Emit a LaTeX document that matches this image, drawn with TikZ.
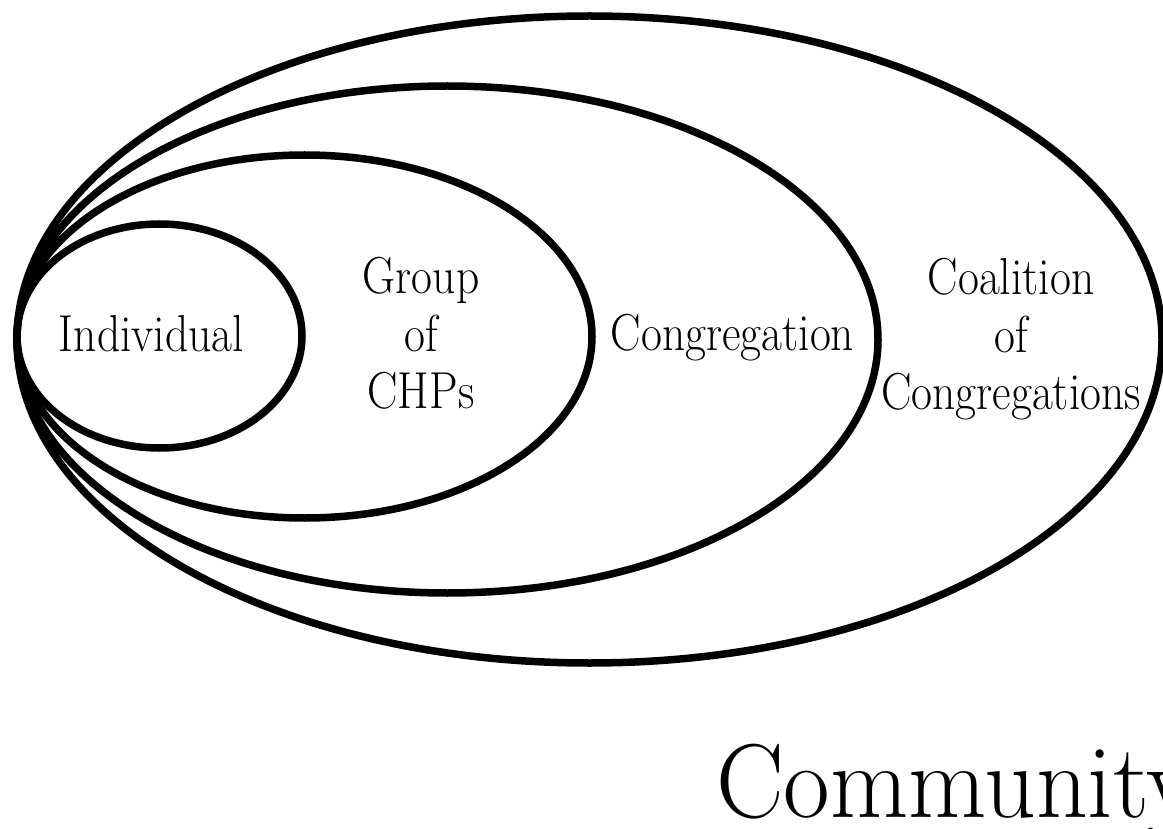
\documentclass[tikz,border=0pt]{standalone}
\usepackage{fontspec}
\begin{document}
\begin{tikzpicture}[x=1pt,y=-1pt,
  ring/.style={draw=black,line width=7.5pt},
  label/.style={inner sep=0pt,anchor=base,xscale=0.875,transform shape,
    font=\fontsize{52}{57.5}\selectfont},
  title/.style={inner sep=0pt,anchor=base west,xscale=0.965,transform shape,
    font=\fontsize{105}{110}\selectfont}]
\useasboundingbox (0,0) rectangle (1163,829);
\clip (0,0) rectangle (1163,829);
\fill[white] (0,0) rectangle (1163,829);

% nested levels, all touching at the left edge
\draw[ring] (159.5,336)   ellipse [x radius=142.5pt, y radius=112pt];
\draw[ring] (304.5,336.5) ellipse [x radius=287.5pt, y radius=181.5pt];
\draw[ring] (447.5,339.5) ellipse [x radius=430.5pt, y radius=253.5pt];
\draw[ring] (589.5,339.5) ellipse [x radius=572.5pt, y radius=323.5pt];

% level names
\node[label] (individual) at (151.5,352) {Individual};
\node[label] (group) at (421,294)
  {\begin{tabular}[t]{@{}c@{}}Group\\of\\CHPs\end{tabular}};
\node[label] (congregation) at (732.5,350) {Congregation};
\node[label] (coalition) at (1011,295)
  {\begin{tabular}[t]{@{}c@{}}Coalition\\of\\Congregations\end{tabular}};

\node[title] (community) at (716,817) {Community};
\end{tikzpicture}
\end{document}
